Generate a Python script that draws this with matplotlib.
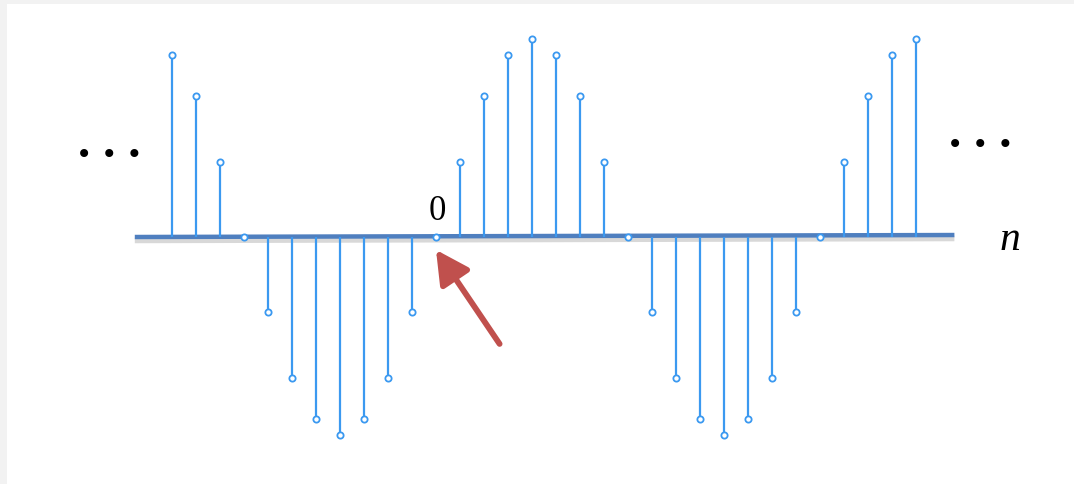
import matplotlib.pyplot as plt
import matplotlib.patheffects as pe

# sample index and values of the sequence x[n]
n = list(range(-11, 21))
x_vals = [0.92, 0.71, 0.38, 0.0, -0.38, -0.71, -0.92, -1.0, -0.92, -0.71, -0.38,
          0.0, 0.38, 0.71, 0.92, 1.0, 0.92, 0.71, 0.38, 0.0, -0.38, -0.71, -0.92,
          -1.0, -0.92, -0.71, -0.38, 0.0, 0.38, 0.71, 0.92, 1.0]

stem_color = '#3b99f0'
base_color = '#4f7fbf'

fig = plt.figure(figsize=(10.74, 4.85), dpi=100, facecolor='#f2f2f2')
ax = fig.add_axes([7 / 1074, 0, 1 - 7 / 1074, 1 - 5 / 485])
ax.set_facecolor('white')
for s in ax.spines.values():
    s.set_visible(False)
ax.set_xticks([])
ax.set_yticks([])

# baseline (time axis) with a soft shadow
ax.plot([-12.55, 21.6], [0.0, 0.01], color=base_color, lw=3.2, solid_capstyle='butt',
        path_effects=[pe.SimpleLineShadow(offset=(0, -2.5), shadow_color='#808080', alpha=0.3, linewidth=4),
                      pe.Normal()], zorder=2)

# stems
ax.vlines(n, 0, x_vals, color=stem_color, lw=1.6, zorder=3)
ax.plot(n, x_vals, 'o', ms=4.5, mfc='white', mec=stem_color, mew=1.3, zorder=4)

# labels
ax.text(0.05, 0.09, '0', fontsize=25, family='Liberation Serif', ha='center', va='baseline')
ax.text(23.9, -0.01, 'n', fontsize=30, family='Liberation Serif', style='italic',
        ha='center', va='center')
ax.text(-13.6, 0.42, '\u2022 \u2022 \u2022', fontsize=20, ha='center', va='center')
ax.text(22.67, 0.47, '\u2022 \u2022 \u2022', fontsize=20, ha='center', va='center')

# arrow pointing at n = 0
ax.annotate('', xy=(0.0, -0.065), xytext=(2.65, -0.54),
            arrowprops=dict(arrowstyle='-|>,head_length=0.8,head_width=0.42', color='#c0504d',
                            lw=4.2, mutation_scale=25, shrinkA=0, shrinkB=0))

ax.set_xlim((7 - 436) / 24, (1074 - 436) / 24)
ax.set_ylim((238 - 485) / 198, (238 - 5) / 198)

fig.savefig('out.png', dpi=100, facecolor=fig.get_facecolor())
